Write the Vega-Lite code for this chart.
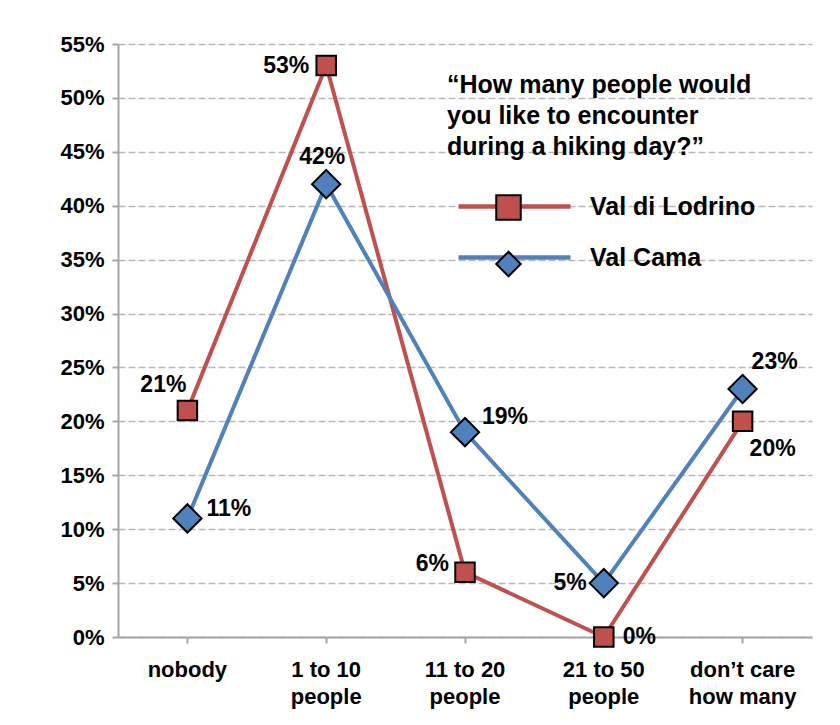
{
  "$schema": "https://vega.github.io/schema/vega-lite/v6.json",
  "autosize": "none",
  "width": 694,
  "height": 593,
  "padding": {"left": 118, "top": 44, "right": 28, "bottom": 88},
  "background": "white",
  "config": {
    "view": {"stroke": null},
    "font": "Liberation Sans",
    "axis": {
      "labelFont": "Liberation Sans",
      "labelFontWeight": "bold",
      "labelColor": "black",
      "labelFontSize": 22,
      "domainColor": "#a6a6a6",
      "domainWidth": 2,
      "tickColor": "#a6a6a6",
      "tickWidth": 2,
      "tickSize": 6,
      "title": null
    }
  },
  "data": {
    "values": [
      {"category": "nobody", "series": "Val di Lodrino", "value": 0.21},
      {"category": "1 to 10 people", "series": "Val di Lodrino", "value": 0.53},
      {"category": "11 to 20 people", "series": "Val di Lodrino", "value": 0.06},
      {"category": "21 to 50 people", "series": "Val di Lodrino", "value": 0.0},
      {"category": "don’t care how many", "series": "Val di Lodrino", "value": 0.20},
      {"category": "nobody", "series": "Val Cama", "value": 0.11},
      {"category": "1 to 10 people", "series": "Val Cama", "value": 0.42},
      {"category": "11 to 20 people", "series": "Val Cama", "value": 0.19},
      {"category": "21 to 50 people", "series": "Val Cama", "value": 0.05},
      {"category": "don’t care how many", "series": "Val Cama", "value": 0.23}
    ]
  },
  "encoding": {
    "x": {
      "field": "category",
      "type": "nominal",
      "sort": ["nobody", "1 to 10 people", "11 to 20 people", "21 to 50 people", "don’t care how many"],
      "scale": {"type": "band", "paddingInner": 0, "paddingOuter": 0},
      "axis": {
        "labelAngle": 0,
        "labelPadding": 16,
        "labelLineHeight": 27,
        "labelExpr": "indexof(datum.value, ' people') > 0 ? [replace(datum.value, ' people', ''), 'people'] : (datum.value == 'don’t care how many' ? ['don’t care', 'how many'] : datum.value)"
      }
    },
    "y": {
      "field": "value",
      "type": "quantitative",
      "scale": {"domain": [0, 0.55], "nice": false},
      "axis": {
        "format": ".0%",
        "values": [0, 0.05, 0.1, 0.15, 0.2, 0.25, 0.3, 0.35, 0.4, 0.45, 0.5, 0.55],
        "labelPadding": 8,
        "grid": true,
        "gridColor": "#b8b8b8",
        "gridWidth": 1.5,
        "gridDash": [7, 3]
      }
    }
  },
  "layer": [
    {
      "mark": {"type": "line", "strokeWidth": 4},
      "encoding": {
        "stroke": {
          "field": "series",
          "type": "nominal",
          "sort": ["Val di Lodrino", "Val Cama"],
          "scale": {"range": ["#c0504d", "#4f81bd"]},
          "legend": {
            "orient": "none",
            "legendX": 329,
            "legendY": 29,
            "padding": 0,
            "title": ["“How many people would", "you like to encounter", "during a hiking day?”"],
            "titleFont": "Liberation Sans",
            "titleFontSize": 25,
            "titleFontWeight": "bold",
            "titleColor": "black",
            "titleLineHeight": 31,
            "titlePadding": 34,
            "titleLimit": 500,
            "symbolType": "M-1,0H111",
            "symbolSize": 4,
            "symbolStrokeWidth": 4.5,
            "labelFont": "Liberation Sans",
            "labelFontSize": 25,
            "labelFontWeight": "bold",
            "labelColor": "black",
            "labelOffset": 118,
            "labelLimit": 400,
            "rowPadding": 25
          }
        }
      }
    },
    {
      "transform": [{"filter": "datum.series == 'Val di Lodrino'"}],
      "mark": {"type": "point", "filled": true, "opacity": 1, "stroke": "black", "strokeWidth": 2, "size": 380},
      "encoding": {
        "fill": {
          "field": "series",
          "type": "nominal",
          "scale": {"domain": ["Val di Lodrino", "Val Cama"], "range": ["#c0504d", "#4f81bd"]},
          "legend": {
            "orient": "none",
            "legendX": 377,
            "legendY": 150,
            "padding": 0,
            "title": null,
            "labelExpr": "''",
            "symbolSize": 600,
            "symbolStrokeColor": "black",
            "symbolStrokeWidth": 2,
            "symbolOpacity": 1,
            "rowPadding": 23.5
          }
        },
        "shape": {
          "field": "series",
          "type": "nominal",
          "scale": {"domain": ["Val di Lodrino", "Val Cama"], "range": ["square", "diamond"]}
        }
      }
    },
    {
      "transform": [{"filter": "datum.series == 'Val Cama'"}],
      "mark": {"type": "point", "filled": true, "opacity": 1, "stroke": "black", "strokeWidth": 2, "size": 800},
      "encoding": {
        "fill": {
          "field": "series",
          "type": "nominal",
          "scale": {"domain": ["Val di Lodrino", "Val Cama"], "range": ["#c0504d", "#4f81bd"]}
        },
        "shape": {
          "field": "series",
          "type": "nominal",
          "scale": {"domain": ["Val di Lodrino", "Val Cama"], "range": ["square", "diamond"]}
        }
      }
    },
    {
      "transform": [{"filter": "(datum.series == 'Val di Lodrino' && datum.category == '1 to 10 people') || (datum.series == 'Val Cama' && datum.category == '21 to 50 people')"}],
      "mark": {"type": "text", "align": "right", "baseline": "middle", "dx": -17, "dy": 0, "fontSize": 23, "fontWeight": "bold", "font": "Liberation Sans", "color": "black"},
      "encoding": {"text": {"field": "value", "type": "quantitative", "format": ".0%"}}
    },
    {
      "transform": [{"filter": "datum.series == 'Val di Lodrino' && datum.category == '11 to 20 people'"}],
      "mark": {"type": "text", "align": "right", "baseline": "middle", "dx": -16, "dy": -8, "fontSize": 23, "fontWeight": "bold", "font": "Liberation Sans", "color": "black"},
      "encoding": {"text": {"field": "value", "type": "quantitative", "format": ".0%"}}
    },
    {
      "transform": [{"filter": "datum.series == 'Val di Lodrino' && datum.category == '21 to 50 people'"}],
      "mark": {"type": "text", "align": "left", "baseline": "middle", "dx": 19, "dy": 0, "fontSize": 23, "fontWeight": "bold", "font": "Liberation Sans", "color": "black"},
      "encoding": {"text": {"field": "value", "type": "quantitative", "format": ".0%"}}
    },
    {
      "transform": [{"filter": "datum.series == 'Val Cama' && datum.category == 'nobody'"}],
      "mark": {"type": "text", "align": "left", "baseline": "middle", "dx": 19, "dy": -9, "fontSize": 23, "fontWeight": "bold", "font": "Liberation Sans", "color": "black"},
      "encoding": {"text": {"field": "value", "type": "quantitative", "format": ".0%"}}
    },
    {
      "transform": [{"filter": "datum.series == 'Val Cama' && datum.category == '11 to 20 people'"}],
      "mark": {"type": "text", "align": "left", "baseline": "middle", "dx": 17, "dy": -15, "fontSize": 23, "fontWeight": "bold", "font": "Liberation Sans", "color": "black"},
      "encoding": {"text": {"field": "value", "type": "quantitative", "format": ".0%"}}
    },
    {
      "transform": [{"filter": "datum.series == 'Val Cama' && datum.category == '1 to 10 people'"}],
      "mark": {"type": "text", "align": "center", "baseline": "middle", "dx": -4, "dy": -27, "fontSize": 23, "fontWeight": "bold", "font": "Liberation Sans", "color": "black"},
      "encoding": {"text": {"field": "value", "type": "quantitative", "format": ".0%"}}
    },
    {
      "transform": [{"filter": "datum.series == 'Val di Lodrino' && datum.category == 'nobody'"}],
      "mark": {"type": "text", "align": "right", "baseline": "middle", "dx": -1, "dy": -26, "fontSize": 23, "fontWeight": "bold", "font": "Liberation Sans", "color": "black"},
      "encoding": {"text": {"field": "value", "type": "quantitative", "format": ".0%"}}
    },
    {
      "transform": [{"filter": "datum.series == 'Val Cama' && datum.category == 'don’t care how many'"}],
      "mark": {"type": "text", "align": "left", "baseline": "middle", "dx": 9, "dy": -27, "fontSize": 23, "fontWeight": "bold", "font": "Liberation Sans", "color": "black"},
      "encoding": {"text": {"field": "value", "type": "quantitative", "format": ".0%"}}
    },
    {
      "transform": [{"filter": "datum.series == 'Val di Lodrino' && datum.category == 'don’t care how many'"}],
      "mark": {"type": "text", "align": "left", "baseline": "middle", "dx": 7, "dy": 28, "fontSize": 23, "fontWeight": "bold", "font": "Liberation Sans", "color": "black"},
      "encoding": {"text": {"field": "value", "type": "quantitative", "format": ".0%"}}
    }
  ]
}
